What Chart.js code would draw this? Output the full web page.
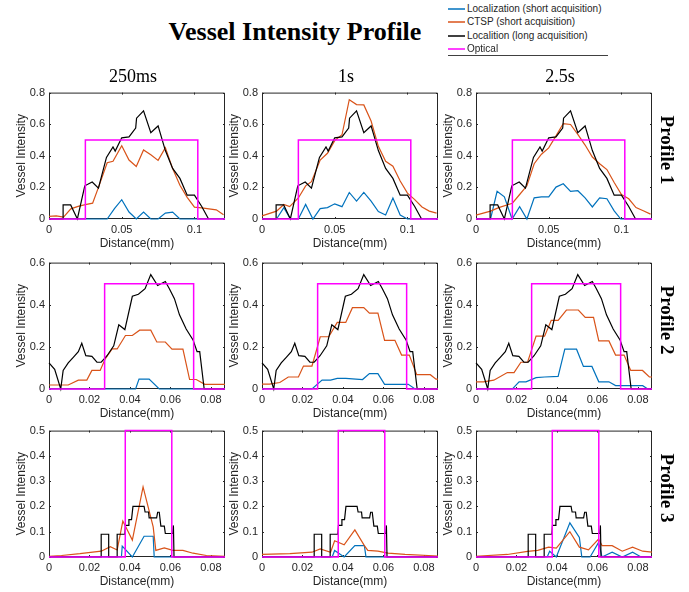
<!DOCTYPE html>
<html>
<head>
<meta charset="utf-8">
<script src="https://cdn.jsdelivr.net/npm/chart.js@4.4.1/dist/chart.umd.min.js"></script>
<style>
  body { margin: 0; background: #fff; }
  #fig { position: relative; width: 689px; height: 592px; overflow: hidden; background: #fff; font-family: "Liberation Sans", Arial, sans-serif; color: #262626; }
  #fig canvas { position: absolute; }
  .serif { position: absolute; font-family: "Liberation Serif", "Times New Roman", serif; color: #000; white-space: nowrap; transform: translate(-50%, -50%); z-index: 2; }
  .title { font-size: 26px; font-weight: bold; }
  .col { font-size: 18px; }
  .row { font-size: 19px; font-weight: bold; transform: translate(-50%, -50%) rotate(90deg); }
  #legend { position: absolute; left: 448px; top: 2px; font-size: 10px; z-index: 2; }
  #legend .item { position: relative; height: 13.4px; line-height: 13.4px; padding-left: 19px; white-space: nowrap; }
  #legend .swatch { position: absolute; left: 0; top: 6px; width: 17px; height: 2px; opacity: 0.75; }
  #rule { position: absolute; left: 448px; top: 55px; width: 160px; height: 1px; background: #404040; }
</style>
</head>
<body>
<div id="fig">
  <div class="serif title" style="left:295px; top:32px;">Vessel Intensity Profile</div>
  <div id="legend"></div>
  <div id="rule"></div>
</div>
<script>
const seriesNames = ["Localization (short acquisition)", "CTSP (short acquisition)", "Localition (long acquisition)", "Optical"];
const seriesColors = ["#0072BD", "#D95319", "#000000", "#FF00FF"];
const exposures = ["250ms", "1s", "2.5s"];
const profiles = ["Profile 1", "Profile 2", "Profile 3"];

const xMax = [0.121, 0.087, 0.087];
const yMax = [0.8, 0.6, 0.5];
const xTicks = [[0, 0.05, 0.1], [0, 0.02, 0.04, 0.06, 0.08], [0, 0.02, 0.04, 0.06, 0.08]];
const yTicks = [[0, 0.2, 0.4, 0.6, 0.8], [0, 0.2, 0.4, 0.6], [0, 0.1, 0.2, 0.3, 0.4, 0.5]];

// Profile 1 -- [distance, intensity]
const prof1Long = [[0,0],[0.0097,0],[0.0097,0.089],[0.0149,0.089],[0.0195,0],[0.0246,0.21],[0.0297,0.234],[0.034,0.195],[0.0395,0.39],[0.044,0.456],[0.0455,0.43],[0.05,0.514],[0.055,0.52],[0.0596,0.576],[0.0602,0.638],[0.065,0.684],[0.07,0.547],[0.075,0.589],[0.08,0.433],[0.085,0.32],[0.09,0.257],[0.095,0.151],[0.1,0.151],[0.105,0.079],[0.1097,0]];
const prof1Optical = [[0,0],[0.025,0],[0.025,0.5],[0.1023,0.5],[0.1023,0],[0.121,0]];
const prof1Loc250 = [[0,0],[0.04,0],[0.045,0.066],[0.05,0.122],[0.055,0.044],[0.06,0],[0.065,0.044],[0.07,0],[0.075,0],[0.08,0.037],[0.085,0.044],[0.09,0],[0.121,0]];
const prof1Ctsp250 = [[0,0.017],[0.005,0.02],[0.01,0.012],[0.015,0.064],[0.02,0.08],[0.025,0.091],[0.03,0.1],[0.034,0.2],[0.04,0.356],[0.044,0.365],[0.05,0.464],[0.055,0.373],[0.06,0.332],[0.065,0.437],[0.07,0.406],[0.075,0.371],[0.08,0.452],[0.085,0.319],[0.09,0.213],[0.095,0.137],[0.1,0.075],[0.105,0.07],[0.11,0.064],[0.115,0.058],[0.12,0.027]];
const prof1Loc1s = [[0,0],[0.01,0],[0.015,0.072],[0.0195,0],[0.025,0],[0.03,0.092],[0.035,0],[0.04,0.066],[0.045,0.072],[0.05,0.096],[0.055,0.078],[0.06,0.168],[0.065,0.113],[0.07,0.168],[0.075,0.113],[0.08,0.047],[0.085,0.025],[0.09,0.133],[0.095,0.025],[0.1,0],[0.121,0]];
const prof1Ctsp1s = [[0,0.02],[0.01,0.05],[0.015,0.092],[0.019,0.078],[0.025,0.133],[0.03,0.21],[0.034,0.236],[0.04,0.373],[0.045,0.416],[0.05,0.496],[0.055,0.533],[0.06,0.755],[0.065,0.724],[0.07,0.722],[0.075,0.62],[0.08,0.46],[0.085,0.365],[0.09,0.334],[0.095,0.24],[0.1,0.164],[0.105,0.123],[0.11,0.076],[0.115,0.05],[0.12,0.037]];
const prof1Loc2500 = [[0,0],[0.01,0],[0.0145,0.175],[0.0195,0.14],[0.0248,0],[0.03,0.078],[0.035,0],[0.04,0.134],[0.045,0.14],[0.05,0.14],[0.055,0.202],[0.06,0.223],[0.065,0.175],[0.07,0.179],[0.075,0.134],[0.08,0.076],[0.085,0.134],[0.09,0.128],[0.095,0.052],[0.0995,0],[0.121,0]];
const prof1Ctsp2500 = [[0,0.025],[0.01,0.05],[0.0156,0.072],[0.025,0.1],[0.03,0.155],[0.035,0.21],[0.04,0.35],[0.045,0.41],[0.05,0.45],[0.055,0.526],[0.06,0.604],[0.065,0.598],[0.07,0.536],[0.075,0.468],[0.08,0.392],[0.085,0.35],[0.09,0.313],[0.095,0.231],[0.1,0.155],[0.105,0.128],[0.11,0.072],[0.115,0.052],[0.12,0.031]];

// Profile 2
const prof2Long = [[0,0.124],[0.0028,0.093],[0.0058,0],[0.007,0.088],[0.0095,0.124],[0.012,0.15],[0.0145,0.177],[0.0162,0.217],[0.0182,0.158],[0.0212,0.155],[0.0237,0.127],[0.0258,0.127],[0.0287,0.158],[0.032,0.205],[0.0345,0.305],[0.0375,0.282],[0.0412,0.44],[0.0442,0.45],[0.0475,0.476],[0.0503,0.543],[0.0537,0.491],[0.0575,0.51],[0.0595,0.476],[0.062,0.429],[0.0645,0.352],[0.0678,0.285],[0.0712,0.233],[0.0732,0.177],[0.0745,0.177],[0.0767,0],[0.087,0]];
const prof2Optical = [[0,0],[0.0275,0],[0.0275,0.5],[0.0715,0.5],[0.0715,0],[0.087,0]];
const prof2Loc250 = [[0,0],[0.0428,0],[0.0445,0.047],[0.0495,0.047],[0.0545,0],[0.087,0]];
const prof2Ctsp250 = [[0,0.019],[0.0095,0.019],[0.0145,0.042],[0.0187,0.042],[0.0212,0.088],[0.0253,0.088],[0.0278,0.143],[0.0312,0.19],[0.0337,0.19],[0.0378,0.254],[0.0412,0.254],[0.0448,0.279],[0.0503,0.279],[0.0533,0.223],[0.0575,0.223],[0.0608,0.189],[0.0662,0.189],[0.0695,0.045],[0.0728,0.045],[0.077,0.022],[0.087,0.022]];
const prof2Loc1s = [[0,0],[0.0247,0],[0.0297,0.042],[0.0339,0.042],[0.0372,0.05],[0.0414,0.05],[0.0497,0.045],[0.0531,0.073],[0.0573,0.073],[0.0606,0.022],[0.0723,0.022],[0.0757,0],[0.087,0]];
const prof2Ctsp1s = [[0,0.023],[0.0037,0.023],[0.0088,0.031],[0.013,0.057],[0.018,0.057],[0.0205,0.109],[0.0247,0.109],[0.0288,0.248],[0.033,0.248],[0.0372,0.316],[0.0414,0.316],[0.0447,0.386],[0.0503,0.386],[0.0531,0.36],[0.0573,0.36],[0.0606,0.231],[0.0657,0.231],[0.069,0.161],[0.0728,0.161],[0.0765,0.068],[0.0832,0.068],[0.086,0.047],[0.087,0.047]];
const prof2Loc2500 = [[0,0],[0.018,0],[0.0213,0.034],[0.0247,0.034],[0.0297,0.054],[0.0339,0.057],[0.0406,0.06],[0.0439,0.189],[0.0497,0.189],[0.0531,0.107],[0.0573,0.107],[0.0607,0.034],[0.0657,0.034],[0.069,0.016],[0.0824,0.016],[0.0849,0],[0.087,0]];
const prof2Ctsp2500 = [[0,0.034],[0.0037,0.034],[0.0088,0.042],[0.0155,0.078],[0.0188,0.078],[0.0222,0.127],[0.0255,0.127],[0.0297,0.251],[0.0339,0.251],[0.0372,0.326],[0.0406,0.326],[0.0447,0.375],[0.0506,0.375],[0.054,0.34],[0.0581,0.34],[0.0607,0.228],[0.0657,0.228],[0.069,0.161],[0.0732,0.161],[0.0765,0.088],[0.0823,0.088],[0.0857,0.057],[0.087,0.057]];

// Profile 3
const prof3Long = [[0,0],[0.0258,0],[0.0258,0.09],[0.0295,0.09],[0.0295,0],[0.0337,0],[0.0337,0.09],[0.0375,0.09],[0.0378,0.125],[0.0392,0.125],[0.0395,0.148],[0.0408,0.148],[0.0415,0.2],[0.047,0.2],[0.0475,0.178],[0.0492,0.178],[0.0495,0.155],[0.0532,0.155],[0.0537,0.177],[0.0545,0.177],[0.0553,0.122],[0.057,0.122],[0.0575,0.093],[0.0612,0.093],[0.0615,0.125],[0.0618,0],[0.087,0]];
const prof3Optical = [[0,0],[0.0377,0],[0.0377,0.5],[0.0607,0.5],[0.0607,0],[0.087,0]];
const prof3Loc250 = [[0,0],[0.0358,0],[0.0362,0.043],[0.0412,0],[0.047,0.082],[0.0515,0.082],[0.052,0],[0.087,0]];
const prof3Ctsp250 = [[0,0.003],[0.0062,0.006],[0.0153,0.013],[0.0258,0.023],[0.0303,0.041],[0.0337,0.028],[0.0365,0.142],[0.0378,0.122],[0.0412,0.067],[0.0465,0.277],[0.0515,0.119],[0.0528,0.026],[0.057,0.036],[0.0612,0.026],[0.0662,0.026],[0.0712,0.015],[0.0778,0.006],[0.087,0.003]];
const prof3Loc1s = [[0,0],[0.0347,0],[0.0359,0.026],[0.0406,0],[0.0459,0.045],[0.0506,0.045],[0.0514,0],[0.087,0]];
const prof3Ctsp1s = [[0,0.01],[0.0138,0.013],[0.0247,0.019],[0.0288,0.032],[0.0339,0.019],[0.0359,0.064],[0.0406,0.048],[0.0459,0.107],[0.0506,0.045],[0.0523,0.026],[0.0573,0.023],[0.0623,0.015],[0.0707,0.01],[0.087,0.004]];
const prof3Loc2500 = [[0,0],[0.0352,0],[0.0364,0.023],[0.0397,0],[0.0464,0.135],[0.0511,0.077],[0.0523,0],[0.0564,0],[0.0606,0.058],[0.0623,0],[0.0673,0.019],[0.0723,0],[0.0774,0.019],[0.0816,0],[0.087,0]];
const prof3Ctsp2500 = [[0,0.003],[0.0155,0.01],[0.0255,0.022],[0.0305,0.026],[0.0359,0.039],[0.0397,0.035],[0.0464,0.1],[0.0511,0.039],[0.0556,0.028],[0.0606,0.071],[0.0623,0.045],[0.0673,0.045],[0.0723,0.023],[0.0774,0.039],[0.0824,0.023],[0.087,0.019]];

const longData = [prof1Long, prof2Long, prof3Long];
const opticalData = [prof1Optical, prof2Optical, prof3Optical];
const locData = [[prof1Loc250, prof1Loc1s, prof1Loc2500], [prof2Loc250, prof2Loc1s, prof2Loc2500], [prof3Loc250, prof3Loc1s, prof3Loc2500]];
const ctspData = [[prof1Ctsp250, prof1Ctsp1s, prof1Ctsp2500], [prof2Ctsp250, prof2Ctsp1s, prof2Ctsp2500], [prof3Ctsp250, prof3Ctsp1s, prof3Ctsp2500]];

// layout of the 3x3 grid (plot areas, px)
const plotLeft = [49, 262, 476];
const plotTop = [90, 260, 428];
const PW = 176, PH = 129;
const AXIS_W = 48, AXIS_H = 34, PAD = 8;
const FONT = "'Liberation Sans', Arial, sans-serif";
const INK = "#262626";

const fig = document.getElementById("fig");

// legend + headers
const legend = document.getElementById("legend");
seriesNames.forEach((name, i) => {
  const row = document.createElement("div");
  row.className = "item";
  row.innerHTML = `<div class="swatch" style="background:${seriesColors[i]}"></div>${name}`;
  legend.appendChild(row);
});
exposures.forEach((t, c) => {
  const d = document.createElement("div");
  d.className = "serif col";
  d.style.left = (plotLeft[c] + PW / 2 - 4) + "px";
  d.style.top = "76px";
  d.textContent = t;
  fig.appendChild(d);
});
profiles.forEach((t, r) => {
  const d = document.createElement("div");
  d.className = "serif row";
  d.style.left = "667px";
  d.style.top = (plotTop[r] + PH / 2 - 5) + "px";
  d.textContent = t;
  fig.appendChild(d);
});

// axes box with small inward ticks, like MATLAB
const boxPlugin = {
  id: "box",
  beforeDatasetsDraw(chart) {
    const { ctx, chartArea: a, scales } = chart;
    ctx.save();
    ctx.strokeStyle = INK;
    ctx.lineWidth = 1;
    ctx.beginPath();
    ctx.rect(a.left + 0.5, a.top + 0.5, a.right - a.left - 1, a.bottom - a.top - 1);
    scales.x.ticks.forEach((t) => {
      const px = Math.round(scales.x.getPixelForValue(t.value)) + 0.5;
      ctx.moveTo(px, a.bottom); ctx.lineTo(px, a.bottom - 2);
      ctx.moveTo(px, a.top); ctx.lineTo(px, a.top + 2);
    });
    scales.y.ticks.forEach((t) => {
      const py = Math.round(scales.y.getPixelForValue(t.value)) + 0.5;
      ctx.moveTo(a.left, py); ctx.lineTo(a.left + 2, py);
      ctx.moveTo(a.right, py); ctx.lineTo(a.right - 2, py);
    });
    ctx.stroke();
    ctx.restore();
  },
};

function line(points, color, width, order) {
  return {
    data: points.map(([x, y]) => ({ x, y })),
    borderColor: color,
    borderWidth: width,
    pointRadius: 0,
    tension: 0,
    fill: false,
    order,
    clip: false,
  };
}

function makePanel(r, c) {
  const canvas = document.createElement("canvas");
  const w = AXIS_W + PW + PAD, h = PAD + PH + AXIS_H;
  canvas.width = w;
  canvas.height = h;
  canvas.style.left = (plotLeft[c] - AXIS_W) + "px";
  canvas.style.top = (plotTop[r] - PAD) + "px";
  canvas.style.width = w + "px";
  canvas.style.height = h + "px";
  fig.appendChild(canvas);

  new Chart(canvas, {
    type: "line",
    data: {
      datasets: [
        line(opticalData[r], seriesColors[3], 1.5, 0),
        line(longData[r], seriesColors[2], 1.2, 1),
        line(ctspData[r][c], seriesColors[1], 1.2, 2),
        line(locData[r][c], seriesColors[0], 1.2, 3),
      ],
    },
    options: {
      responsive: false,
      animation: false,
      events: [],
      layout: { padding: { top: PAD, right: PAD, left: 0, bottom: 0 } },
      plugins: { legend: { display: false }, tooltip: { enabled: false } },
      scales: {
        x: {
          type: "linear",
          min: 0,
          max: xMax[r],
          grid: { display: false, drawTicks: false },
          border: { display: false },
          afterBuildTicks: (s) => { s.ticks = xTicks[r].map((v) => ({ value: v })); },
          afterFit: (s) => { s.height = AXIS_H; },
          ticks: { font: { family: FONT, size: 11 }, color: INK, padding: 4, maxRotation: 0, autoSkip: false, callback: (v) => String(v) },
          title: { display: true, text: "Distance(mm)", font: { family: FONT, size: 12 }, color: INK, padding: { top: 0, bottom: 1.8 } },
        },
        y: {
          type: "linear",
          min: 0,
          max: yMax[r],
          grid: { display: false, drawTicks: false },
          border: { display: false },
          afterBuildTicks: (s) => { s.ticks = yTicks[r].map((v) => ({ value: v })); },
          afterFit: (s) => { s.width = AXIS_W; },
          ticks: { font: { family: FONT, size: 11 }, color: INK, padding: 4, autoSkip: false, callback: (v) => String(v) },
          title: { display: true, text: "Vessel Intensity", font: { family: FONT, size: 12 }, color: INK, padding: { top: 13.3, bottom: 0 } },
        },
      },
    },
    plugins: [boxPlugin],
  });
}

for (let r = 0; r < 3; r++) {
  for (let c = 0; c < 3; c++) makePanel(r, c);
}
</script>
</body>
</html>
